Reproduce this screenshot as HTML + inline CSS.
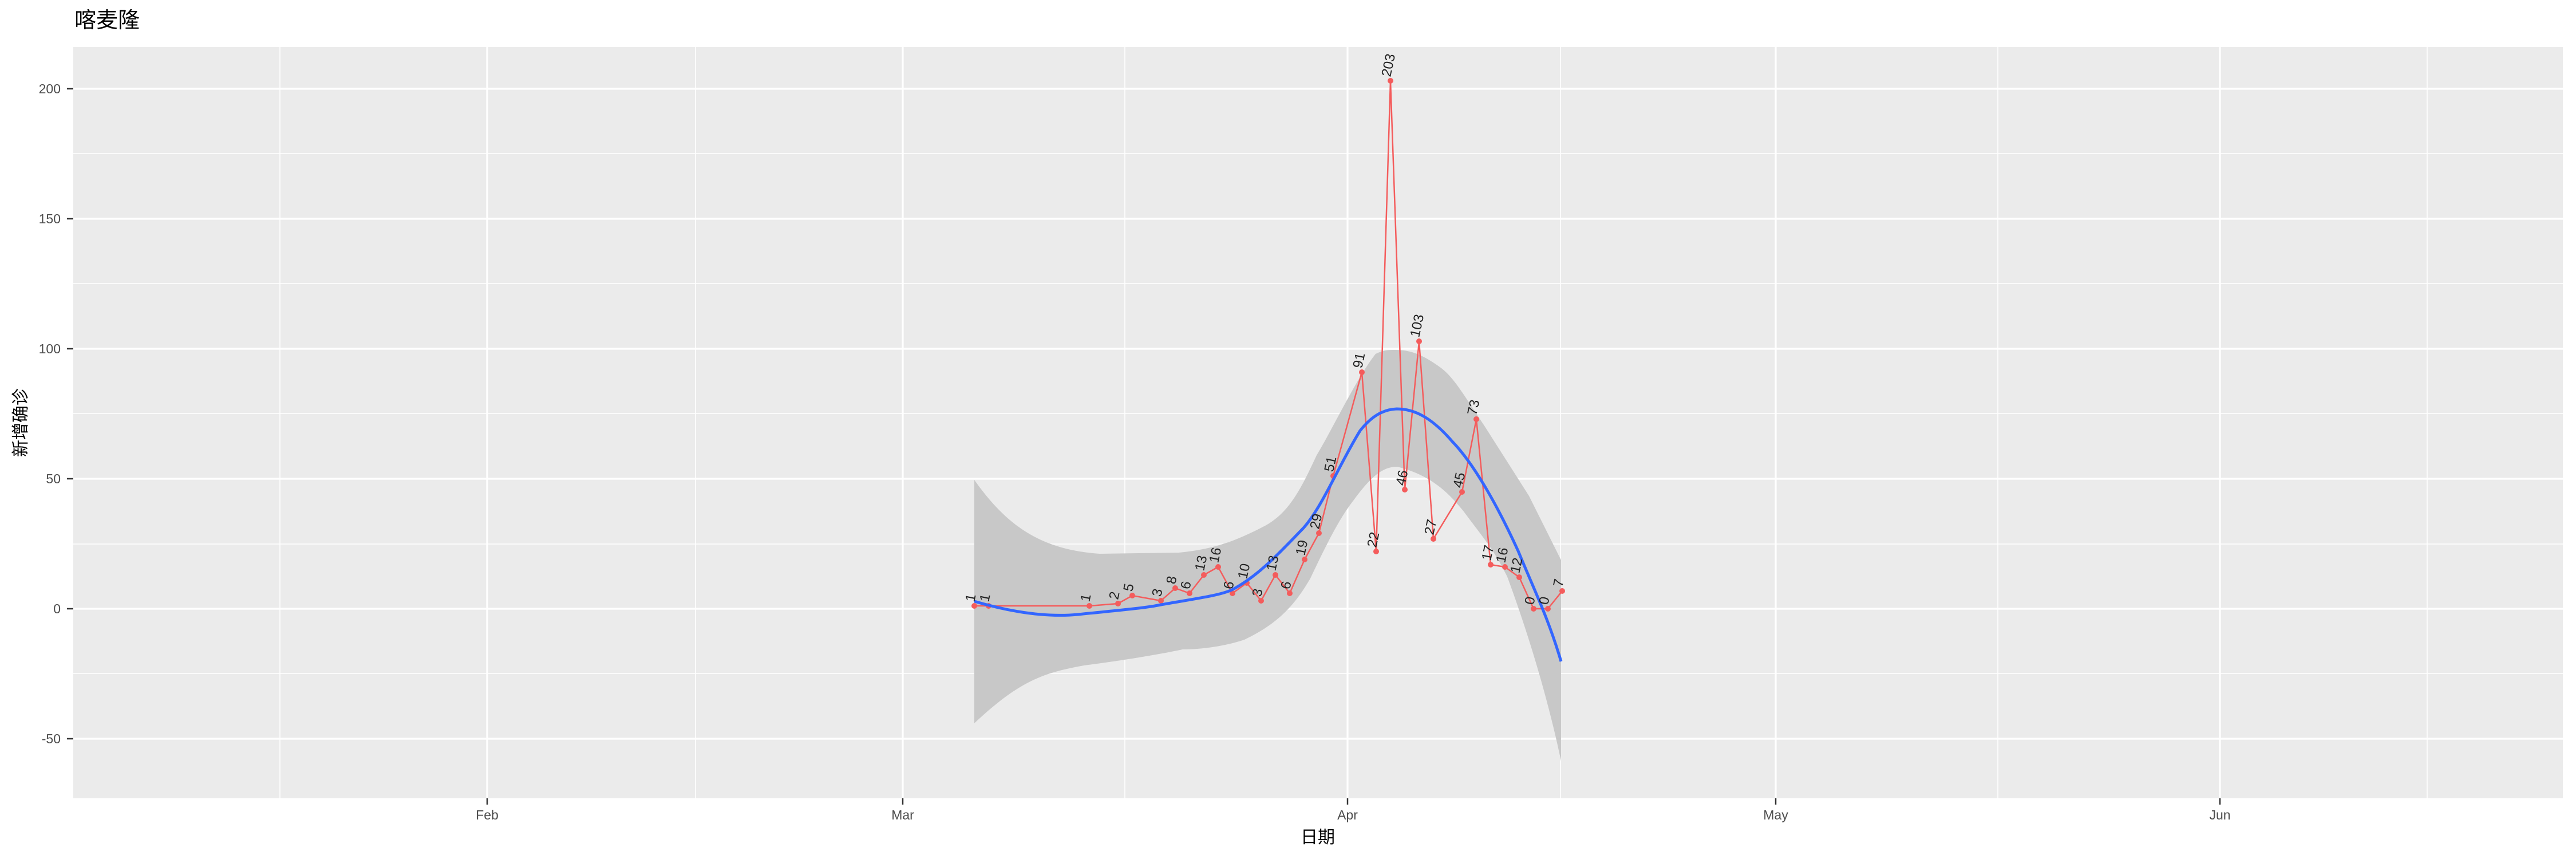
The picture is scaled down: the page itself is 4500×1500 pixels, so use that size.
<!DOCTYPE html>
<html><head><meta charset="utf-8"><style>
html,body{margin:0;padding:0;background:#fff;}
svg{display:block;}
text{font-family:"Liberation Sans","Noto Sans CJK SC",sans-serif;}
</style></head><body>
<svg width="4500" height="1500" viewBox="0 0 4500 1500" xmlns="http://www.w3.org/2000/svg">
<rect x="0" y="0" width="4500" height="1500" fill="#fff"/>
<text x="130" y="48" font-size="38" fill="#000">喀麦隆</text>
<rect x="128" y="82" width="4349" height="1312" fill="#ebebeb"/>
<g stroke="#fff" stroke-width="1.6">
<line x1="128" x2="4477" y1="1176" y2="1176"/><line x1="128" x2="4477" y1="950" y2="950"/>
<line x1="128" x2="4477" y1="722" y2="722"/><line x1="128" x2="4477" y1="495" y2="495"/>
<line x1="128" x2="4477" y1="268" y2="268"/>
<line y1="82" y2="1394" x1="489" x2="489"/><line y1="82" y2="1394" x1="1215" x2="1215"/>
<line y1="82" y2="1394" x1="1965" x2="1965"/><line y1="82" y2="1394" x1="2726" x2="2726"/>
<line y1="82" y2="1394" x1="3490" x2="3490"/><line y1="82" y2="1394" x1="4240" x2="4240"/>
</g>
<g stroke="#fff" stroke-width="3.2">
<line x1="128" x2="4477" y1="1290" y2="1290"/><line x1="128" x2="4477" y1="1063" y2="1063"/>
<line x1="128" x2="4477" y1="836" y2="836"/><line x1="128" x2="4477" y1="609" y2="609"/>
<line x1="128" x2="4477" y1="382" y2="382"/><line x1="128" x2="4477" y1="155" y2="155"/>
<line y1="82" y2="1394" x1="851" x2="851"/><line y1="82" y2="1394" x1="1577" x2="1577"/>
<line y1="82" y2="1394" x1="2354" x2="2354"/><line y1="82" y2="1394" x1="3102" x2="3102"/>
<line y1="82" y2="1394" x1="3878" x2="3878"/>
</g>
<path d="M1702,838 C1760,920 1820,960 1921,967 L2059,965 C2110,960 2150,950 2212,917 C2250,895 2270,860 2300,795 C2330,745 2370,660 2403,618 C2415,612 2425,611 2434,611 C2460,611 2480,615 2518,643 C2540,660 2556,688 2594,745 L2671,866 L2727,978 L2727,1329 C2700,1200 2660,1080 2633,1007 C2610,960 2594,943 2556,892 C2530,860 2500,830 2441,815 C2420,815 2400,825 2365,873 C2340,905 2320,945 2289,1010 C2260,1060 2230,1090 2174,1117 C2120,1135 2066,1134 2066,1134 C1990,1150 1894,1162 1894,1162 C1820,1175 1779,1191 1702,1263 Z" fill="#c8c8c8"/>
<polyline fill="none" stroke="#f45c5c" stroke-width="2.5" points="1702,1058 1727,1058 1903,1058 1953,1054 1978,1040 2028,1049 2053,1027 2078,1036 2103,1004 2128,990 2153,1036 2178,1018 2203,1049 2228,1004 2253,1036 2279,977 2304,931 2329,831 2379,650 2404,963 2429,141 2454,855 2479,596 2504,941 2554,859 2579,732 2604,986 2629,990 2654,1008 2679,1063 2704,1063 2729,1032"/>
<g fill="#f45c5c">
<circle cx="1702" cy="1058" r="5"/><circle cx="1727" cy="1058" r="5"/><circle cx="1903" cy="1058" r="5"/><circle cx="1953" cy="1054" r="5"/><circle cx="1978" cy="1040" r="5"/><circle cx="2028" cy="1049" r="5"/><circle cx="2053" cy="1027" r="5"/><circle cx="2078" cy="1036" r="5"/><circle cx="2103" cy="1004" r="5"/><circle cx="2128" cy="990" r="5"/><circle cx="2153" cy="1036" r="5"/><circle cx="2178" cy="1018" r="5"/><circle cx="2203" cy="1049" r="5"/><circle cx="2228" cy="1004" r="5"/><circle cx="2253" cy="1036" r="5"/><circle cx="2279" cy="977" r="5"/><circle cx="2304" cy="931" r="5"/><circle cx="2329" cy="831" r="5"/><circle cx="2379" cy="650" r="5"/><circle cx="2404" cy="963" r="5"/><circle cx="2429" cy="141" r="5"/><circle cx="2454" cy="855" r="5"/><circle cx="2479" cy="596" r="5"/><circle cx="2504" cy="941" r="5"/><circle cx="2554" cy="859" r="5"/><circle cx="2579" cy="732" r="5"/><circle cx="2604" cy="986" r="5"/><circle cx="2629" cy="990" r="5"/><circle cx="2654" cy="1008" r="5"/><circle cx="2679" cy="1063" r="5"/><circle cx="2704" cy="1063" r="5"/><circle cx="2729" cy="1032" r="5"/>
</g>
<path d="M1702,1050 C1770,1070 1830,1078 1883,1073 C1950,1066 2000,1062 2028,1056 C2090,1045 2130,1040 2152,1030 C2200,1005 2240,960 2277,922 C2310,885 2340,810 2376,752 C2395,728 2415,715 2440,714 C2470,714 2500,728 2537,771 C2570,805 2610,870 2652,962 C2680,1030 2705,1080 2727,1155" fill="none" stroke="#3366ff" stroke-width="5"/>
<g font-size="24" fill="#222" text-anchor="start">
<text transform="translate(1702,1052) rotate(-78)">1</text>
<text transform="translate(1727,1052) rotate(-78)">1</text>
<text transform="translate(1903,1052) rotate(-78)">1</text>
<text transform="translate(1953,1048) rotate(-78)">2</text>
<text transform="translate(1978,1034) rotate(-78)">5</text>
<text transform="translate(2028,1043) rotate(-78)">3</text>
<text transform="translate(2053,1021) rotate(-78)">8</text>
<text transform="translate(2078,1030) rotate(-78)">6</text>
<text transform="translate(2103,998) rotate(-78)">13</text>
<text transform="translate(2128,984) rotate(-78)">16</text>
<text transform="translate(2153,1030) rotate(-78)">6</text>
<text transform="translate(2178,1012) rotate(-78)">10</text>
<text transform="translate(2203,1043) rotate(-78)">3</text>
<text transform="translate(2228,998) rotate(-78)">13</text>
<text transform="translate(2253,1030) rotate(-78)">6</text>
<text transform="translate(2279,971) rotate(-78)">19</text>
<text transform="translate(2304,925) rotate(-78)">29</text>
<text transform="translate(2329,825) rotate(-78)">51</text>
<text transform="translate(2379,644) rotate(-78)">91</text>
<text transform="translate(2404,957) rotate(-78)">22</text>
<text transform="translate(2429,135) rotate(-78)">203</text>
<text transform="translate(2454,849) rotate(-78)">46</text>
<text transform="translate(2479,590) rotate(-78)">103</text>
<text transform="translate(2504,935) rotate(-78)">27</text>
<text transform="translate(2554,853) rotate(-78)">45</text>
<text transform="translate(2579,726) rotate(-78)">73</text>
<text transform="translate(2604,980) rotate(-78)">17</text>
<text transform="translate(2629,984) rotate(-78)">16</text>
<text transform="translate(2654,1002) rotate(-78)">12</text>
<text transform="translate(2679,1057) rotate(-78)">0</text>
<text transform="translate(2704,1057) rotate(-78)">0</text>
<text transform="translate(2729,1026) rotate(-78)">7</text>
</g>
<g stroke="#333" stroke-width="2.5">
<line x1="117" x2="128" y1="1290" y2="1290"/><line x1="117" x2="128" y1="1063" y2="1063"/>
<line x1="117" x2="128" y1="836" y2="836"/><line x1="117" x2="128" y1="609" y2="609"/>
<line x1="117" x2="128" y1="382" y2="382"/><line x1="117" x2="128" y1="155" y2="155"/>
<line y1="1394" y2="1405" x1="851" x2="851"/><line y1="1394" y2="1405" x1="1577" x2="1577"/>
<line y1="1394" y2="1405" x1="2354" x2="2354"/><line y1="1394" y2="1405" x1="3102" x2="3102"/>
<line y1="1394" y2="1405" x1="3878" x2="3878"/>
</g>
<g font-size="23" fill="#4d4d4d" text-anchor="end">
<text x="106" y="1298">-50</text><text x="106" y="1071">0</text><text x="106" y="844">50</text>
<text x="106" y="617">100</text><text x="106" y="390">150</text><text x="106" y="163">200</text>
</g>
<g font-size="23" fill="#4d4d4d" text-anchor="middle">
<text x="851" y="1431">Feb</text><text x="1577" y="1431">Mar</text><text x="2354" y="1431">Apr</text>
<text x="3102" y="1431">May</text><text x="3878" y="1431">Jun</text>
</g>
<text x="2302" y="1472" font-size="30" text-anchor="middle" fill="#000">日期</text>
<text transform="translate(46,738) rotate(-90)" font-size="30" text-anchor="middle" fill="#000">新增确诊</text>
</svg>
</body></html>
